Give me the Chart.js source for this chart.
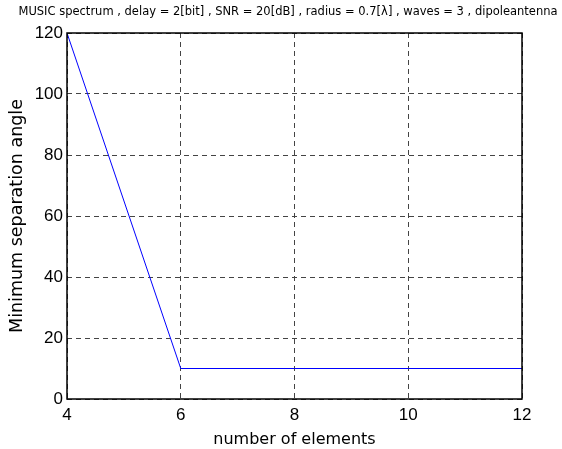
<!DOCTYPE html>
<html>
<head>
<meta charset="utf-8">
<script src="https://cdn.jsdelivr.net/npm/chart.js@4"></script>
<style>
  html, body { margin: 0; padding: 0; background: #fff; }
  #wrap { width: 562px; height: 449px; }
</style>
</head>
<body>
<div id="wrap"><canvas id="c"></canvas></div>
<script>
// data
const elements = [4, 6, 8, 10, 12];
const minAngle = [120, 10, 10, 10, 10];
const xTicks = [4, 6, 8, 10, 12];
const yTicks = [0, 20, 40, 60, 80, 100, 120];
const titleText = 'MUSIC spectrum , delay = 2[bit] , SNR = 20[dB] , radius = 0.7[\u03bb] , waves = 3 , dipoleantenna';

const tickFont = '"Liberation Sans", Arial, sans-serif';
const labelFont = '"DejaVu Sans", sans-serif';

// black box round the plot area + title above it
const framePlugin = {
  id: 'frame',
  afterDatasetsDraw(chart) {
    const a = chart.chartArea, ctx = chart.ctx;
    ctx.save();
    ctx.strokeStyle = '#000';
    ctx.lineWidth = 1.5;
    ctx.strokeRect(a.left, a.top, a.right - a.left, a.bottom - a.top);
    ctx.restore();
  },
  afterDraw(chart) {
    const ctx = chart.ctx;
    ctx.save();
    ctx.fillStyle = '#000';
    ctx.font = '11.5px ' + labelFont;
    ctx.textAlign = 'center';
    ctx.textBaseline = 'middle';
    ctx.fillText(titleText, 288, 12);
    ctx.restore();
  }
};

const ctx = document.getElementById('c').getContext('2d');
const chart = new Chart(ctx, {
  type: 'line',
  data: {
    datasets: [{
      data: elements.map((x, i) => ({ x: x, y: minAngle[i] })),
      borderColor: '#0000ff',
      borderWidth: 1,
      pointRadius: 0,
      tension: 0,
      fill: false
    }]
  },
  options: {
    responsive: true,
    maintainAspectRatio: false,
    animation: false,
    layout: { padding: { left: 0, right: 40, top: 33, bottom: 0 } },
    plugins: {
      legend: { display: false },
      tooltip: { enabled: false },
      title: { display: false }
    },
    scales: {
      x: {
        type: 'linear',
        min: 4,
        max: 12,
        afterBuildTicks: s => { s.ticks = xTicks.map(v => ({ value: v })); },
        afterFit: s => { s.height = 50; },
        ticks: { color: '#000', font: { family: tickFont, size: 17 }, padding: 6 },
        grid: { color: '#444', lineWidth: 1, drawTicks: false },
        border: { display: false, dash: [5, 4] },
        title: {
          display: true,
          text: 'number of elements',
          color: '#000',
          font: { family: labelFont, size: 16 },
          padding: { top: 2, bottom: 0 }
        }
      },
      y: {
        min: 0,
        max: 120,
        afterBuildTicks: s => { s.ticks = yTicks.map(v => ({ value: v })); },
        afterFit: s => { s.width = 67; },
        ticks: { color: '#000', font: { family: tickFont, size: 17 }, padding: 4 },
        grid: { color: '#444', lineWidth: 1, drawTicks: false },
        border: { display: false, dash: [5, 4] },
        title: {
          display: true,
          text: 'Minimum separation angle',
          color: '#000',
          font: { family: labelFont, size: 17.5 },
          padding: { top: 7, bottom: 4 }
        }
      }
    }
  },
  plugins: [framePlugin]
});
</script>
</body>
</html>
